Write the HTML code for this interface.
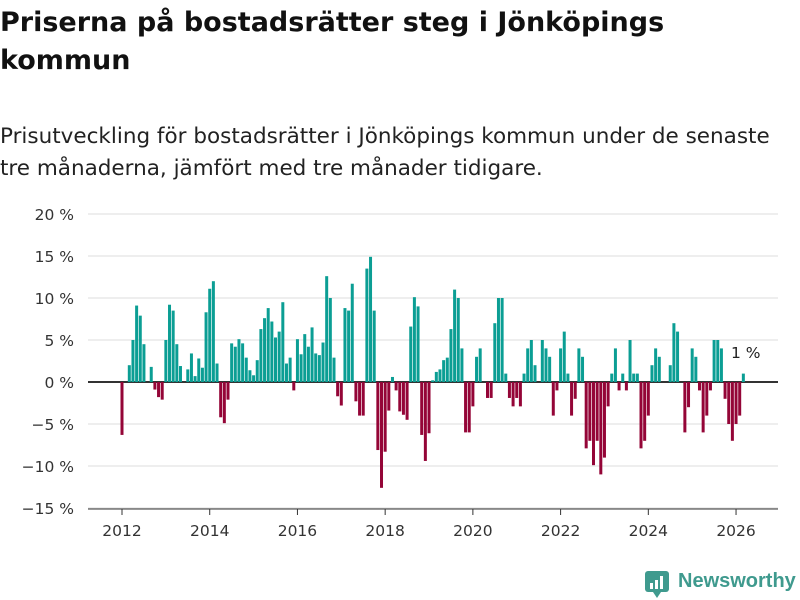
<!DOCTYPE html>
<html><head><meta charset="utf-8">
<style>
body{margin:0;background:#fff;width:800px;height:600px;overflow:hidden;font-family:"DejaVu Sans","Liberation Sans",sans-serif;}
#title{position:absolute;left:0;top:4px;font-size:27px;font-weight:bold;color:#111;line-height:38px;margin:0;width:720px;font-family:"DejaVu Sans","Liberation Sans",sans-serif;}
#sub{position:absolute;left:0;top:121px;font-size:21.5px;color:#222;line-height:32px;margin:0;width:800px;white-space:nowrap;}
svg{position:absolute;left:0;top:0;}
</style></head>
<body>
<h1 id="title">Priserna på bostadsrätter steg i Jönköpings kommun</h1>
<p id="sub">Prisutveckling för bostadsrätter i Jönköpings kommun under de senaste<br>tre månaderna, jämfört med tre månader tidigare.</p>
<svg id="chart" width="800" height="600" style="font-family:'DejaVu Sans','Liberation Sans',sans-serif"></svg>
<script>
const values=[-6.3,0,2,5,9.1,7.9,4.5,0,1.8,-0.9,
-1.8,-2.1,5,9.2,8.5,4.5,1.9,0,1.5,3.4,
0.7,2.8,1.7,8.3,11.1,12,2.2,-4.2,-4.9,-2.1,
4.6,4.2,5.1,4.6,2.9,1.4,0.8,2.6,6.3,7.6,
8.8,7.2,5.3,6,9.5,2.2,2.9,-1,5.1,3.3,
5.7,4.2,6.5,3.4,3.2,4.7,12.6,10,2.9,-1.7,
-2.8,8.8,8.5,11.7,-2.3,-4,-4,13.5,14.9,8.5,
-8.1,-12.6,-8.3,-3.4,0.6,-1,-3.5,-3.9,-4.5,6.6,
10.1,9,-6.3,-9.4,-6.1,0.2,1.2,1.5,2.6,2.9,
6.3,11,10,4,-6,-6,-2.9,3,4,0,
-1.9,-1.9,7,10,10,1,-1.9,-2.9,-1.9,-2.9,
1,4,5,2,0,5,4,3,-4,-1,
4,6,1,-4,-2,4,3,-7.9,-7,-9.9,
-7,-11,-9,-2.9,1,4,-1,1,-1,5,
1,1,-7.9,-7,-4,2,4,3,0,0,
2,7,6,0,-6,-3,4,3,-1,-6,
-4,-1,5,5,4,-2,-5,-7,-5,-4,1];
const yTicks=[20,15,10,5,0,-5,-10,-15];
const xYears=[2012,2014,2016,2018,2020,2022,2024,2026];
const startYear=2012;
const lastLabel="1 %";

const NS="http://www.w3.org/2000/svg";
const svg=document.getElementById('chart');
const y=v=>382-v*8.4;
const x=i=>122+i*3.655;
function mk(t,a){const e=document.createElementNS(NS,t);for(const k in a)e.setAttribute(k,a[k]);svg.appendChild(e);return e;}
yTicks.forEach(t=>{
  const g=mk('line',{x1:88,x2:778,y1:y(t),y2:y(t),stroke:t===0?'#333':'#ddd','stroke-width':t===0?2:1});
  
  
  const l=mk('text',{x:74,y:y(t)+6,'text-anchor':'end','font-size':'15.5','fill':'#333'});
  l.textContent=(t<0?'\u2212'+(-t):t)+' %';
  
  
});
values.forEach((v,i)=>{
  if(v===0)return;
  const r=mk('rect',{x:x(i)-1.5,width:3,y:Math.min(y(v),y(0)),height:Math.abs(y(v)-y(0)),fill:v>0?'#0b9e94':'#940537'});
  
  
});
xYears.forEach(yr=>{
  const px=x((yr-startYear)*12);
  const tk=mk('line',{x1:px,x2:px,y1:509,y2:515,stroke:'#333','stroke-width':1});
  
  
  const t=mk('text',{x:px,y:536,'text-anchor':'middle','font-size':'15.5','fill':'#333'});
  t.textContent=yr;
  
  
});
const ax=mk('line',{x1:88,x2:778,y1:509,y2:509,stroke:'#333','stroke-width':1});


const lab=mk('text',{x:731,y:358,'font-size':'15.5','fill':'#222'});
lab.textContent=lastLabel;


</script>
<div style="position:absolute;left:645px;top:569px;height:30px;">
<svg width="26" height="30" style="position:absolute;left:0;top:0">
<rect x="0" y="2" width="24" height="21" rx="3" fill="#3f9a8e"/><polygon points="8,23 16,23 12,29" fill="#3f9a8e"/>
<rect x="5" y="14" width="3" height="6" fill="#fff"/><rect x="10" y="11" width="3" height="9" fill="#fff"/><rect x="15" y="7" width="3" height="13" fill="#fff"/>
</svg>
<span style="position:absolute;left:33px;top:1px;font-size:20px;font-weight:bold;color:#3f9a8e;white-space:nowrap;font-family:'Liberation Sans',sans-serif;">Newsworthy</span>
</div>
</body></html>
